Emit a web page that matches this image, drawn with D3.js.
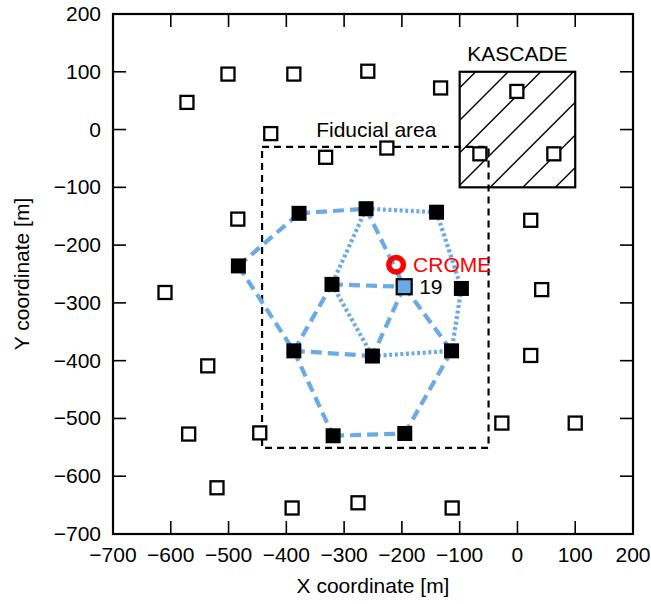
<!DOCTYPE html>
<html>
<head>
<meta charset="utf-8">
<script src="https://cdn.jsdelivr.net/npm/d3@7"></script>
<style>
  html, body { margin: 0; padding: 0; background: #fff; }
  svg text { font-family: "Liberation Sans", Arial, Helvetica, sans-serif; }
</style>
</head>
<body>
<svg id="chart" width="651" height="604"></svg>
<script>
// Detector stations not in the analysed event (open squares)
const openX = [-572, -501, -387, -259, -133, -1, -427, -332, -226, -65, 63, -484, 23, -610, 42, -536, 23, -569, -446, -27, 100, -520, -390, -276, -113];
const openY = [47, 96, 96, 101, 72, 66, -7, -48, -32, -42, -42, -155, -157, -282, -277, -409, -391, -527, -525, -508, -508, -620, -655, -646, -655];

// Triggered stations (filled squares); index 5 is station 19
const hitX = [-483, -378, -262, -140, -321, -196, -97, -387, -251, -114, -319, -195];
const hitY = [-236, -145, -137, -143, -268, -272, -275, -383, -392, -383, -530, -526];
const labelledStation = 5;
const labelledName = "19";

// Links between stations, by index into hitX / hitY
const dashedLinks = [[0,1],[1,2],[0,7],[7,4],[7,8],[7,10],[4,5],[2,5],[5,8],[5,9],[9,11],[10,11]];
const dottedLinks = [[2,3],[2,4],[3,6],[4,8],[6,9],[8,9]];

// Fiducial area and KASCADE array extents [m]
const fiducialX = [-442, -50];
const fiducialY = [-551, -30];
const kascadeX = [-100, 100];
const kascadeY = [-100, 100];

// CROME location
const cromeX = -210;
const cromeY = -234;

// Axis ticks
const ticks = [-700, -600, -500, -400, -300, -200, -100, 0, 100, 200];

const svg = d3.select("#chart");
const margin = { left: 113, top: 14, right: 18, bottom: 70 };
const W = 651, H = 604;
const x = d3.scaleLinear().domain([-700, 200]).range([margin.left, W - margin.right]);
const y = d3.scaleLinear().domain([-700, 200]).range([H - margin.bottom, margin.top]);

const fmt = v => (v < 0 ? "\u2212" + Math.abs(v) : String(v));
const blue = "#6aaae6";
const fs = 21;

// Fiducial area (dashed rectangle)
svg.append("rect")
  .attr("x", x(fiducialX[0])).attr("y", y(fiducialY[1]))
  .attr("width", x(fiducialX[1]) - x(fiducialX[0]))
  .attr("height", y(fiducialY[0]) - y(fiducialY[1]))
  .attr("fill", "none").attr("stroke", "#000")
  .attr("stroke-width", 2.2).attr("stroke-dasharray", "7,5");

svg.append("text")
  .attr("x", (x(fiducialX[0]) + x(fiducialX[1])) / 2 + 1)
  .attr("y", y(fiducialY[1]) - 10)
  .attr("text-anchor", "middle").attr("font-size", fs)
  .text("Fiducial area");

// KASCADE array: hatched square
const kx0 = x(kascadeX[0]), kx1 = x(kascadeX[1]);
const ky0 = y(kascadeY[1]), ky1 = y(kascadeY[0]);
svg.append("clipPath").attr("id", "kclip")
  .append("rect").attr("x", kx0).attr("y", ky0).attr("width", kx1 - kx0).attr("height", ky1 - ky0);
const hatchStep = (kx1 - kx0) / 3.55;
const cStart = kx0 + ky0 + hatchStep * 0.49;
const cs = d3.range(cStart, kx1 + ky1, hatchStep);
svg.append("g").attr("clip-path", "url(#kclip)")
  .selectAll("line").data(cs).join("line")
  .attr("x1", c => kx0 - 10).attr("y1", c => c - (kx0 - 10))
  .attr("x2", c => kx1 + 10).attr("y2", c => c - (kx1 + 10))
  .attr("stroke", "#000").attr("stroke-width", 1.4);
svg.append("rect")
  .attr("x", kx0).attr("y", ky0).attr("width", kx1 - kx0).attr("height", ky1 - ky0)
  .attr("fill", "none").attr("stroke", "#000").attr("stroke-width", 2.2);
svg.append("text")
  .attr("x", (kx0 + kx1) / 2).attr("y", ky0 - 11)
  .attr("text-anchor", "middle").attr("font-size", fs)
  .text("KASCADE");

// Links between triggered stations
const linkG = svg.append("g").attr("fill", "none").attr("stroke", blue).attr("stroke-linecap", "butt");
linkG.selectAll("line.dash").data(dashedLinks).join("line")
  .attr("class", "dash")
  .attr("x1", d => x(hitX[d[0]])).attr("y1", d => y(hitY[d[0]]))
  .attr("x2", d => x(hitX[d[1]])).attr("y2", d => y(hitY[d[1]]))
  .attr("stroke-width", 4.2).attr("stroke-dasharray", "11,6");
linkG.selectAll("line.dot").data(dottedLinks).join("line")
  .attr("class", "dot")
  .attr("x1", d => x(hitX[d[0]])).attr("y1", d => y(hitY[d[0]]))
  .attr("x2", d => x(hitX[d[1]])).attr("y2", d => y(hitY[d[1]]))
  .attr("stroke-width", 4.2).attr("stroke-dasharray", "3,2.6");

// Open squares
const openSize = 13;
svg.append("g").selectAll("rect").data(openX).join("rect")
  .attr("x", (d, i) => x(d) - openSize / 2)
  .attr("y", (d, i) => y(openY[i]) - openSize / 2)
  .attr("width", openSize).attr("height", openSize)
  .attr("fill", "#fff").attr("stroke", "#000").attr("stroke-width", 2.3);

// Triggered stations
const hitSize = 15;
svg.append("g").selectAll("rect").data(hitX).join("rect")
  .attr("x", (d, i) => x(d) - hitSize / 2)
  .attr("y", (d, i) => y(hitY[i]) - hitSize / 2)
  .attr("width", hitSize).attr("height", hitSize)
  .attr("fill", (d, i) => i === labelledStation ? blue : "#000")
  .attr("stroke", "#000")
  .attr("stroke-width", (d, i) => i === labelledStation ? 2.2 : 0);

svg.append("text")
  .attr("x", x(hitX[labelledStation]) + 15)
  .attr("y", y(hitY[labelledStation]) + 7)
  .attr("font-size", fs).text(labelledName);

// CROME marker
svg.append("circle")
  .attr("cx", x(cromeX)).attr("cy", y(cromeY)).attr("r", 7.3)
  .attr("fill", "none").attr("stroke", "#ff0000").attr("stroke-width", 5.5);
svg.append("text")
  .attr("x", x(cromeX) + 17).attr("y", y(cromeY) + 7)
  .attr("font-size", fs).attr("fill", "#ff0000").text("CROME");

// Axes: frame with inward ticks on all sides
const tickLen = 13;
const axisG = svg.append("g").attr("stroke", "#000").attr("stroke-width", 1.6);
ticks.forEach(t => {
  axisG.append("line").attr("x1", x(t)).attr("x2", x(t)).attr("y1", y(-700)).attr("y2", y(-700) - tickLen);
  axisG.append("line").attr("x1", x(t)).attr("x2", x(t)).attr("y1", y(200)).attr("y2", y(200) + tickLen);
  axisG.append("line").attr("y1", y(t)).attr("y2", y(t)).attr("x1", x(-700)).attr("x2", x(-700) + tickLen);
  axisG.append("line").attr("y1", y(t)).attr("y2", y(t)).attr("x1", x(200)).attr("x2", x(200) - tickLen);
});
svg.append("rect")
  .attr("x", x(-700)).attr("y", y(200))
  .attr("width", x(200) - x(-700)).attr("height", y(-700) - y(200))
  .attr("fill", "none").attr("stroke", "#000").attr("stroke-width", 2.2);

// Tick labels
svg.append("g").selectAll("text").data(ticks).join("text")
  .attr("x", d => x(d)).attr("y", y(-700) + 28)
  .attr("text-anchor", "middle").attr("font-size", fs)
  .text(fmt);
svg.append("g").selectAll("text").data(ticks).join("text")
  .attr("x", x(-700) - 12).attr("y", d => y(d) + 7)
  .attr("text-anchor", "end").attr("font-size", fs)
  .text(fmt);

// Axis titles
svg.append("text")
  .attr("x", (x(-700) + x(200)) / 2).attr("y", 593)
  .attr("text-anchor", "middle").attr("font-size", fs)
  .text("X coordinate [m]");
svg.append("text")
  .attr("transform", `translate(29,${(y(-700) + y(200)) / 2}) rotate(-90)`)
  .attr("text-anchor", "middle").attr("font-size", fs)
  .text("Y coordinate [m]");
</script>
</body>
</html>
